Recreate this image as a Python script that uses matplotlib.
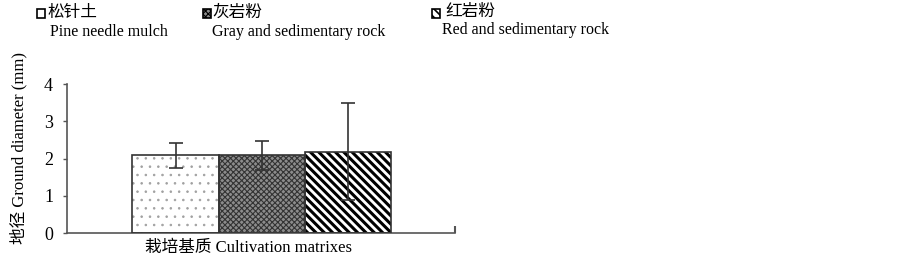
import matplotlib
matplotlib.use('Agg')
import matplotlib.pyplot as plt
from matplotlib.patches import Rectangle

plt.rcParams['font.family'] = ['Liberation Serif', 'Noto Sans CJK SC']
plt.rcParams['hatch.linewidth'] = 0.8

# data
names_cn = ['松针土', '灰岩粉', '红岩粉']
names_en = ['Pine needle mulch', 'Gray and sedimentary rock', 'Red and sedimentary rock']
means = [2.09, 2.09, 2.18]
err_hi = [2.42, 2.48, 3.48]
err_lo = [1.74, 1.68, 0.89]
yticks = [0, 1, 2, 3, 4]

# styles
faces = ['white', '#8c8c8c', 'white']
hatches = ['..', 'xxxxxx', '\\\\\\\\']
hatch_cols = ['#a0a0a0', '#333333', 'black']
hatch_lw = [0.6, 0.8, 2.2]

fig = plt.figure(figsize=(9.03, 2.6), dpi=100)
ax = fig.add_axes([67/903, 27/260, 388/903, 149/260])

x = list(range(len(means)))
for i in x:
    plt.rcParams['hatch.linewidth'] = hatch_lw[i]
    ax.bar(i, means[i], width=1.0, color=faces[i], hatch=hatches[i],
           edgecolor=hatch_cols[i], linewidth=0, zorder=2)
    ax.bar(i, means[i], width=1.0, color='none', edgecolor='#333333',
           linewidth=1.2, zorder=3)

lower = [m - l for m, l in zip(means, err_lo)]
upper = [h - m for m, h in zip(means, err_hi)]
ax.errorbar(x, means, yerr=[lower, upper], fmt='none', ecolor='#333333',
            elinewidth=1.2, capsize=5, capthick=1.2, zorder=4)

ax.set_xlim(-1.26, 3.245)
ax.set_ylim(0, 4)
ax.set_yticks(yticks)
ax.set_yticklabels([str(t) for t in yticks], fontsize=13)
ax.tick_params(axis='y', direction='out', length=3, width=1, color='#555555', pad=7)
ax.set_xticks([3.245])
ax.set_xticklabels([''])
ax.tick_params(axis='x', direction='in', length=5, width=1.5, color='#555555')
for s in ['top', 'right']:
    ax.spines[s].set_visible(False)
for s in ['left', 'bottom']:
    ax.spines[s].set_color('#555555')
    ax.spines[s].set_linewidth(1.2)

fig.text(249/903, 1 - 248/260, '栽培基质 Cultivation matrixes', fontsize=12,
         ha='center', va='center')
fig.text(19/903, 1 - 148/260, '地径 Ground diameter (mm)', fontsize=12,
         ha='center', va='center', rotation=90)

# legend drawn by hand
px = [37, 203, 432]
tx_cn = [47, 212, 445]
tx_en = [50, 212, 442]
y_cn = [13, 13, 12]
y_en = [32, 32, 30]
for i in range(3):
    plt.rcParams['hatch.linewidth'] = min(hatch_lw[i], 1.2)
    fig.add_artist(Rectangle((px[i]/903, 1 - 18/260), 8/903, 9/260,
                             transform=fig.transFigure, facecolor=faces[i],
                             hatch=hatches[i] if i else None,
                             edgecolor='black', linewidth=1.2))
    fig.text(tx_cn[i]/903, 1 - y_cn[i]/260, names_cn[i], fontsize=12,
             ha='left', va='center')
    fig.text(tx_en[i]/903, 1 - y_en[i]/260, names_en[i], fontsize=11.5,
             ha='left', va='center')

fig.savefig('out.png', dpi=100)
